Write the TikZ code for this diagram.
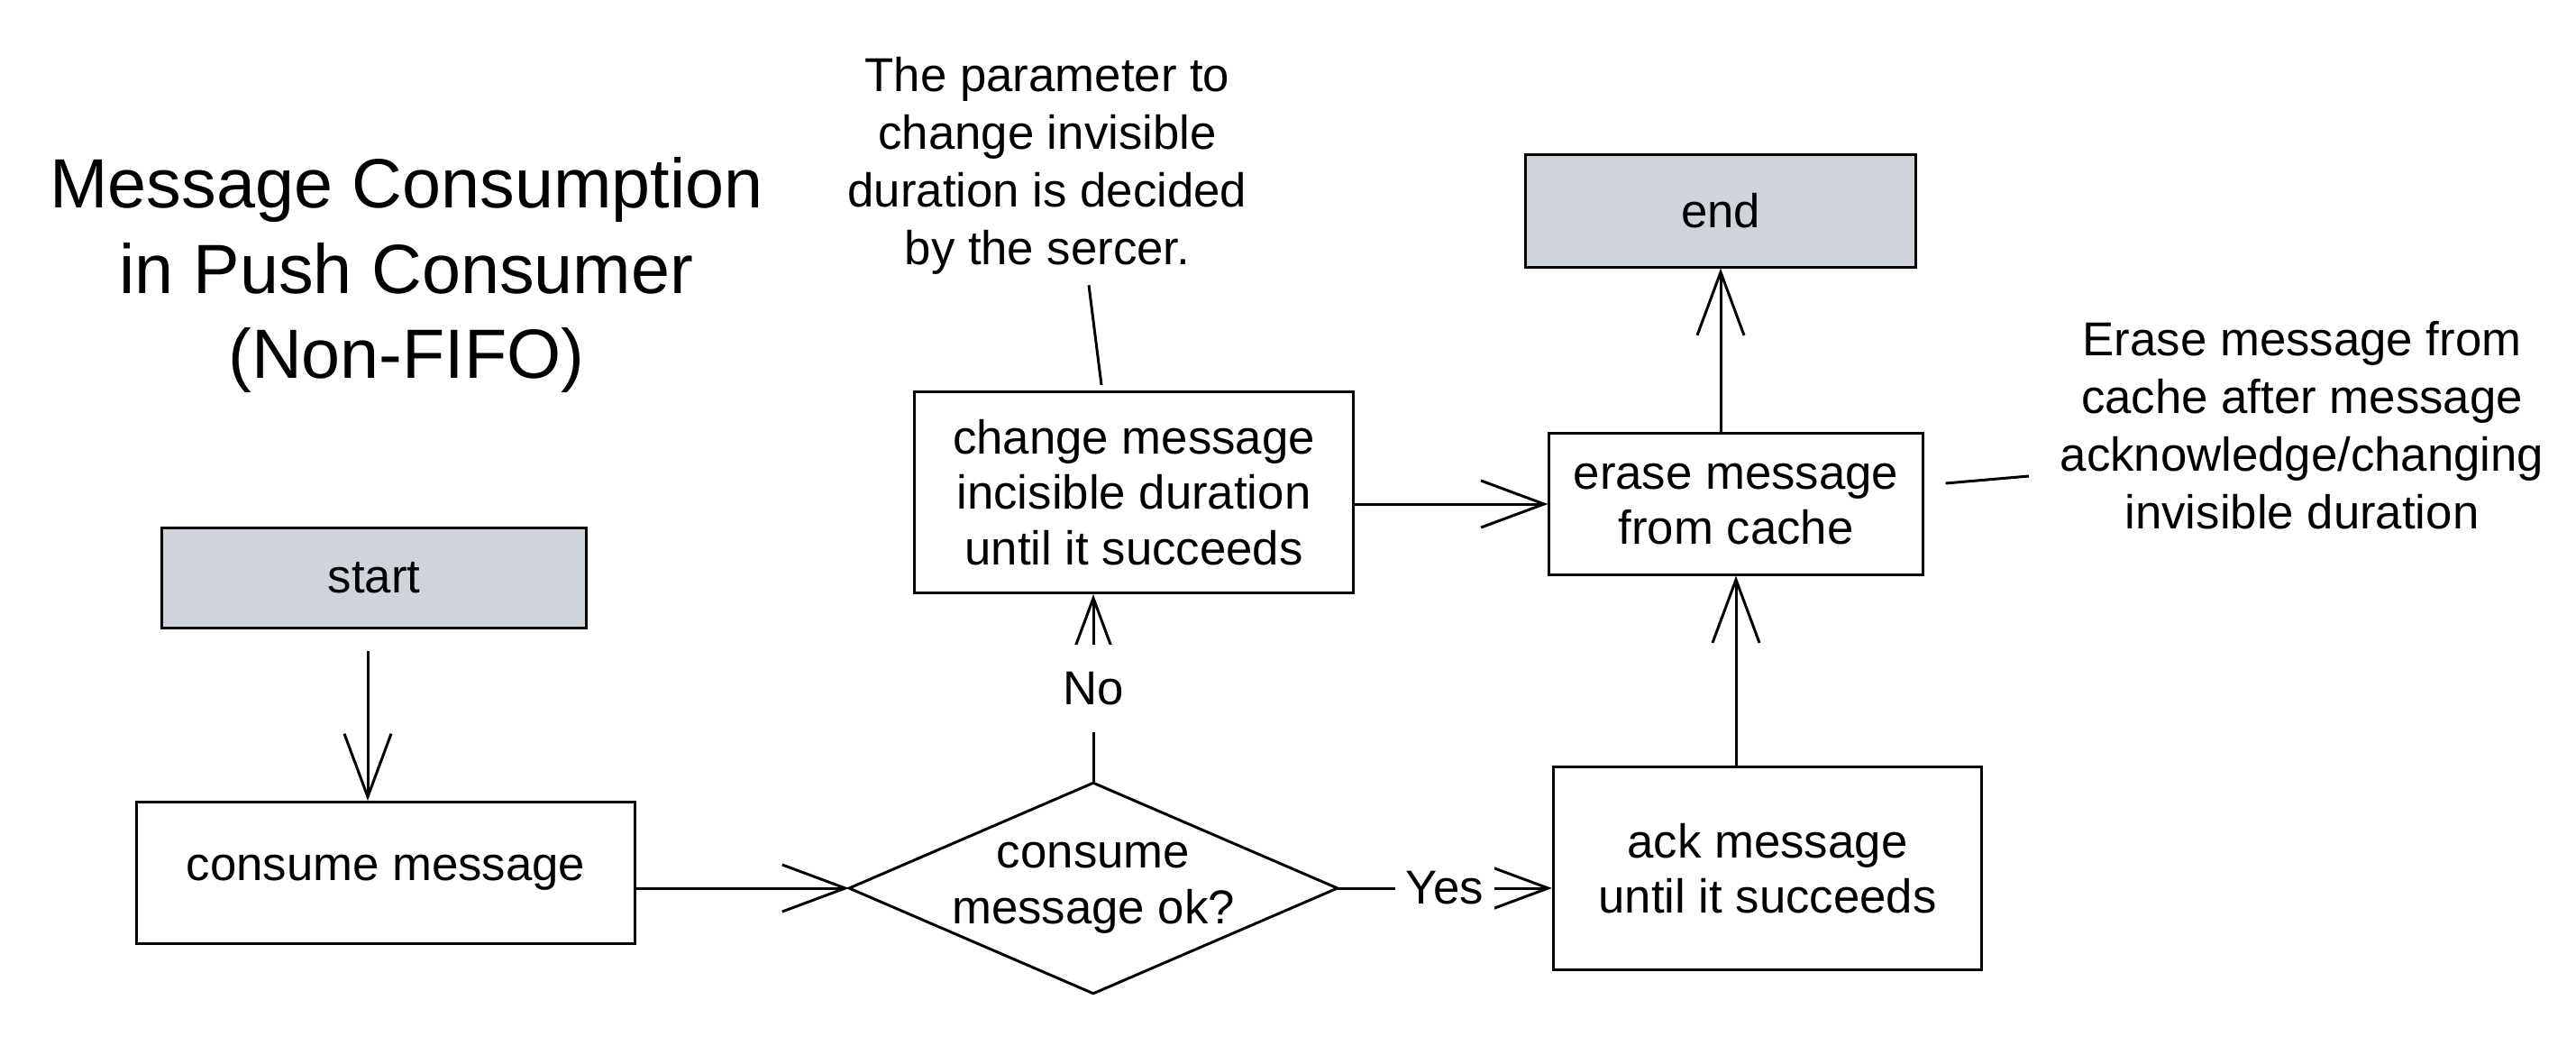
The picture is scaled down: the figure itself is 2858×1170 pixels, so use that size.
\documentclass[tikz,border=0pt]{standalone}
\usepackage{fontspec}
\setmainfont{Liberation Sans}
\usetikzlibrary{arrows.meta,calc}
\definecolor{boxgray}{RGB}{206,212,218}
\tikzset{
  txt/.style={font=\fontsize{15}{17.5}\selectfont},
  box/.style={draw, line width=0.85pt, align=center, inner sep=0pt, txt},
  termbox/.style={box, fill=boxgray},
  note/.style={align=center, inner sep=2pt, font=\fontsize{15}{18.2}\selectfont},
  titlenode/.style={align=center, inner sep=2pt, font=\fontsize{22}{27}\selectfont},
  conn/.style={line width=0.85pt, -{Straight Barb[length=0.7cm,width=0.52cm]}},
  plain/.style={line width=0.85pt},
  lbl/.style={fill=white, inner xsep=0.12cm, inner ysep=0.3cm, txt},
}
\begin{document}
\begin{tikzpicture}[x=0.01cm,y=-0.01cm]
\fill[white] (0,0) rectangle (2858,1170);
\useasboundingbox (0,0) rectangle (2858,1170);

% title
\node[titlenode] (title) at (451,305) {Message Consumption\\in Push Consumer\\(Non-FIFO)};

% nodes
\node[termbox, minimum width=4.70cm, minimum height=1.10cm] (start) at (415,641) {start};
\node[box, minimum width=5.52cm, minimum height=1.57cm] (consume) at (428,968) {consume message};
\node[txt, align=center, inner sep=0pt, minimum width=5.40cm, minimum height=2.32cm] (dec) at (1213,985) {consume\\message ok?};
\draw[plain] (dec.west) -- (dec.north) -- (dec.east) -- (dec.south) -- cycle;
\node[box, minimum width=4.87cm, minimum height=2.23cm] (chg) at (1258,546) {change message\\incisible duration\\until it succeeds};
\node[box, minimum width=4.14cm, minimum height=1.56cm] (ers) at (1926,559) {erase message\\from cache};
\node[termbox, minimum width=4.32cm, minimum height=1.24cm] (end) at (1909,234) {end};
\node[box, minimum width=4.75cm, minimum height=2.24cm] (ack) at (1961,963) {ack message\\until it succeeds};

% notes
\node[note] (note1) at (1162,184) {The parameter to\\change invisible\\duration is decided\\by the sercer.};
\node[note] (note2) at (2554,472) {Erase message from\\cache after message\\acknowledge/changing\\invisible duration};

% connectors
\draw[conn, shorten <=0.24cm] ($(start.south)+(-7,0)$) -- ($(start.south |- consume.north)+(-7,0)$);
\draw[conn] (consume.east |- dec.west) -- (dec.west);
\draw[conn] (dec.north) -- node[lbl] (nolbl) {No} (dec.north |- chg.south);
\draw[conn] (dec.east) -- node[lbl] (yeslbl) {Yes} (ack.west |- dec.east);
\draw[conn] (chg.east |- ers.west) -- (ers.west);
\draw[conn] (ack.north -| ers.south) -- (ers.south);
\draw[conn] (ers.north -| end.south) -- (end.south);

% annotation lines
\draw[plain] ($(chg.north)+(-36,-6)$) -- ($(chg.north |- note1.south)+(-50,4)$);
\draw[plain] ($(ers.east)+(24,-23)$) -- ($(note2.west)+(-27,56)$);
\end{tikzpicture}
\end{document}
